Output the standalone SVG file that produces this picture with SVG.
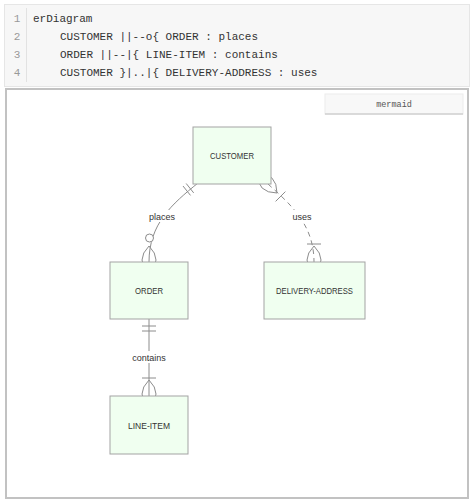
<svg xmlns="http://www.w3.org/2000/svg" width="474" height="503" viewBox="0 0 474 503">
<style>
.code{font-family:"Liberation Mono",monospace;font-size:11px;fill:#333}
.ln{font-family:"Liberation Mono",monospace;font-size:11px;fill:#999;text-anchor:middle}
.ent{fill:#f0fff0;stroke:#a3a3a3;stroke-width:1}
.ename{font-family:"Liberation Sans",Arial,sans-serif;font-size:9.2px;fill:#333;text-anchor:middle}
.lbl{font-family:"Liberation Sans",Arial,sans-serif;font-size:9px;fill:#333;text-anchor:middle}
.edge{fill:none;stroke:#8c8c8c;stroke-width:1}
.dash{stroke-dasharray:5,4}
.mk{fill:none;stroke:#8c8c8c;stroke-width:1}
</style>
<rect x="0" y="0" width="474" height="503" fill="#fff"/>
<g id="code">
<rect x="4.5" y="4.5" width="465" height="82" fill="#f7f7f7" stroke="#e6e6e6"/>
<line x1="26.5" y1="8" x2="26.5" y2="82" stroke="#e2e2e2"/>
<text class="ln" x="17" y="22">1</text>
<text class="ln" x="17" y="40">2</text>
<text class="ln" x="17" y="58">3</text>
<text class="ln" x="17" y="76">4</text>
<text class="code" x="33" y="22">erDiagram</text>
<text class="code" x="60" y="40">CUSTOMER ||--o{ ORDER : places</text>
<text class="code" x="60" y="58">ORDER ||--|{ LINE-ITEM : contains</text>
<text class="code" x="60" y="76">CUSTOMER }|..|{ DELIVERY-ADDRESS : uses</text>
</g>
<rect x="6" y="89" width="462" height="409" fill="#fff" stroke="#c2c2c2" stroke-width="2"/>
<g id="mermaid-btn">
<rect x="325" y="94" width="138" height="20" fill="#f8f8f8" stroke="#ececec"/>
<line x1="325" y1="114" x2="463" y2="114" stroke="#d0d0d0" stroke-width="1.5"/>
<text x="394" y="107" font-family="Liberation Mono,monospace" font-size="8.5" fill="#555" text-anchor="middle">mermaid</text>
</g>
<g id="connectors">
<path class="edge" d="M149,262 C149,224 172,204 198,183"/>
<line class="mk" x1="186.2" y1="183.5" x2="193.7" y2="192.9"/>
<line class="mk" x1="183.0" y1="186.0" x2="190.5" y2="195.4"/>
<circle cx="149.5" cy="238" r="4" fill="#fff" stroke="#8c8c8c"/>
<path class="mk" d="M149,246 Q135,260 149,274 Q163,260 149,246"/>
<rect x="145" y="210" width="34" height="12" fill="#fff"/>
<text class="lbl" x="162" y="219.5">places</text>
<line class="edge" x1="149" y1="319" x2="149" y2="396"/>
<line class="mk" x1="142" y1="326" x2="156" y2="326"/>
<line class="mk" x1="142" y1="331" x2="156" y2="331"/>
<line class="mk" x1="142" y1="378" x2="156" y2="378"/>
<path class="mk" d="M149,380 Q135,394 149,408 Q163,394 149,380"/>
<rect x="130" y="351" width="38" height="12" fill="#fff"/>
<text class="lbl" x="149" y="360.5">contains</text>
<path class="edge dash" d="M268,184 C290,204 314,224 314,262"/>
<path class="mk" d="M277,193 Q257.2,193 257.2,173.2 Q277,173.2 277,193"/>
<line class="mk" x1="275.6" y1="201.4" x2="285.4" y2="191.6"/>
<line class="mk" x1="307" y1="244" x2="321" y2="244"/>
<path class="mk" d="M314,246 Q300,260 314,274 Q328,260 314,246"/>
<rect x="290" y="210" width="24" height="12" fill="#fff"/>
<text class="lbl" x="302" y="219.5">uses</text>
</g>
<g id="CUSTOMER">
<rect class="ent" x="193" y="127" width="78" height="57"/>
<text class="ename" x="232" y="159" textLength="44" lengthAdjust="spacingAndGlyphs">CUSTOMER</text>
</g>
<g id="ORDER">
<rect class="ent" x="110" y="262" width="78" height="57"/>
<text class="ename" x="149" y="294" textLength="28" lengthAdjust="spacingAndGlyphs">ORDER</text>
</g>
<g id="DELIVERY-ADDRESS">
<rect class="ent" x="264" y="262" width="101" height="57"/>
<text class="ename" x="314.5" y="294" textLength="77" lengthAdjust="spacingAndGlyphs">DELIVERY-ADDRESS</text>
</g>
<g id="LINE-ITEM">
<rect class="ent" x="110" y="396" width="78" height="58"/>
<text class="ename" x="149" y="428.5" textLength="42" lengthAdjust="spacingAndGlyphs">LINE-ITEM</text>
</g>
</svg>
